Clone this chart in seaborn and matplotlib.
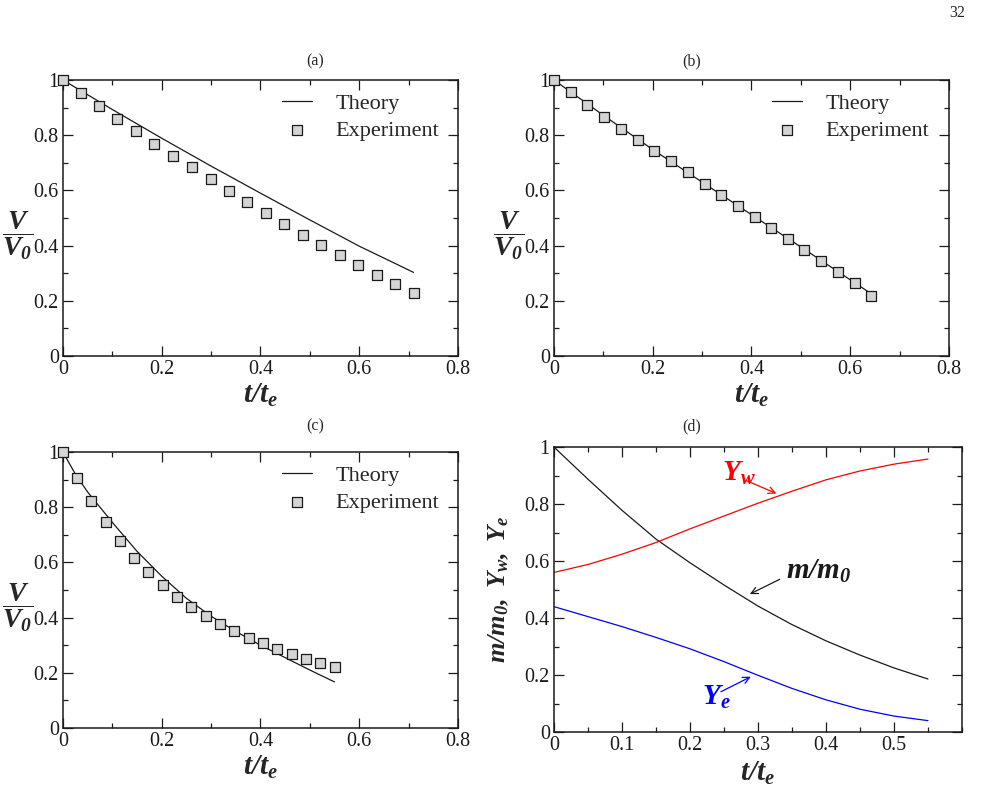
import matplotlib
matplotlib.use("Agg")
import matplotlib.pyplot as plt
import matplotlib.ticker as mtick
import pandas as pd
import seaborn as sns

# panel (a)
A_EXP_T = [0.0, 0.0358, 0.0730, 0.1102, 0.1481, 0.1853, 0.2232, 0.2611, 0.2989, 0.3361,
           0.3733, 0.4105, 0.4484, 0.4856, 0.5234, 0.5606, 0.5978, 0.6357, 0.6729, 0.7107]
A_EXP_V = [1.0, 0.954, 0.906, 0.860, 0.814, 0.769, 0.725, 0.683, 0.640, 0.598,
           0.557, 0.517, 0.478, 0.440, 0.402, 0.365, 0.329, 0.294, 0.260, 0.227]
A_TH_T = [0.0, 0.1, 0.2, 0.3, 0.4, 0.5, 0.6, 0.71]
A_TH_V = [1.0, 0.893, 0.789, 0.688, 0.590, 0.493, 0.398, 0.303]

# panel (b)
B_EXP_T = [0.0, 0.0337, 0.0675, 0.1012, 0.1356, 0.1693, 0.2030, 0.2368, 0.2705, 0.3049,
           0.3386, 0.3723, 0.4061, 0.4398, 0.4742, 0.5073, 0.5417, 0.5754, 0.6091, 0.6428]
B_EXP_V = [1.0, 0.955, 0.908, 0.867, 0.823, 0.783, 0.743, 0.705, 0.665, 0.625,
           0.584, 0.545, 0.505, 0.465, 0.425, 0.384, 0.343, 0.303, 0.263, 0.218]
B_TH_T = [0.0, 0.1, 0.2, 0.3, 0.4, 0.5, 0.643]
B_TH_V = [1.0, 0.872, 0.748, 0.630, 0.512, 0.395, 0.225]

# panel (c)
C_EXP_T = [0.0, 0.0284, 0.0575, 0.0866, 0.1156, 0.1440, 0.1731, 0.2021, 0.2312, 0.2603,
           0.2894, 0.3178, 0.3469, 0.3760, 0.4050, 0.4341, 0.4632, 0.4923, 0.5213, 0.5504]
C_EXP_V = [1.0, 0.905, 0.822, 0.745, 0.679, 0.617, 0.564, 0.517, 0.475, 0.438,
           0.407, 0.378, 0.351, 0.327, 0.307, 0.286, 0.268, 0.251, 0.236, 0.220]
C_TH_T = [0.0, 0.025, 0.05, 0.1, 0.15, 0.2, 0.25, 0.3, 0.35, 0.4, 0.45, 0.5, 0.55]
C_TH_V = [1.0, 0.92, 0.855, 0.745, 0.64, 0.55, 0.47, 0.405, 0.35, 0.30, 0.255, 0.21, 0.167]

# panel (d)
D_T = [0.0, 0.05, 0.1, 0.15, 0.2, 0.25, 0.3, 0.35, 0.4, 0.45, 0.5, 0.55]
D_M = [1.0, 0.887, 0.778, 0.677, 0.594, 0.516, 0.442, 0.377, 0.32, 0.27, 0.225, 0.186]
D_YW = [0.56, 0.588, 0.624, 0.665, 0.713, 0.758, 0.803, 0.845, 0.885, 0.916, 0.94, 0.958]
D_YE = [0.44, 0.405, 0.37, 0.332, 0.292, 0.247, 0.199, 0.153, 0.113, 0.08, 0.056, 0.04]

FRAC_LABEL = r"$\mathbfit{\dfrac{V}{V_0}}$"
T_LABEL = r"$\mathbfit{t/t_e}$"


def style_axis(ax, xmax, major, minor, xticks=None):
    ax.set_xlim(0, xmax)
    ax.set_ylim(0, 1)
    if xticks is None:
        ax.xaxis.set_major_locator(mtick.MultipleLocator(major))
    else:
        ax.xaxis.set_major_locator(mtick.FixedLocator(xticks))
    ax.xaxis.set_minor_locator(mtick.MultipleLocator(minor))
    ax.yaxis.set_major_locator(mtick.MultipleLocator(0.2))
    ax.yaxis.set_minor_locator(mtick.MultipleLocator(0.1))
    fmt = mtick.FuncFormatter(lambda v, p: "%g" % round(v, 3))
    ax.xaxis.set_major_formatter(fmt)
    ax.yaxis.set_major_formatter(fmt)
    ax.tick_params(which="both", direction="in", top=True, right=True,
                   color="k", labelcolor="k", width=0.9, labelsize=14.5)
    ax.tick_params(which="major", length=7, pad=3)
    ax.tick_params(which="minor", length=3.5)
    for s in ax.spines.values():
        s.set_linewidth(1.1)
        s.set_color("k")
    ax.set_xlabel(T_LABEL, fontsize=21, va="top")
    ax.set_ylabel("")


def comparison_panel(ax, th_t, th_v, ex_t, ex_v, leg_x):
    theory = pd.DataFrame({"t": th_t, "v": th_v})
    exper = pd.DataFrame({"t": ex_t, "v": ex_v})
    sns.lineplot(data=theory, x="t", y="v", ax=ax, color="k", lw=0.9,
                 estimator=None, sort=False, label="Theory")
    sns.scatterplot(data=exper, x="t", y="v", ax=ax, marker="s", s=42,
                    color="#d4d4d4", edgecolor="k", linewidth=0.9,
                    label="Experiment", zorder=3, clip_on=False)
    style_axis(ax, 0.8, 0.2, 0.1)
    ax.legend(loc="upper left", bbox_to_anchor=(leg_x, 0.985), frameon=False,
              fontsize=16, handlelength=1.35, handletextpad=1.05,
              labelspacing=0.3, borderaxespad=0)
    ax.xaxis.set_label_coords(0.5, -0.092)
    ax.set_ylabel(FRAC_LABEL, fontsize=20, rotation=0, ha="center", va="center")
    ax.yaxis.set_label_coords(-0.116, 0.435)


def main():
    sns.set_theme(style="ticks")
    plt.rcParams["font.family"] = ["Liberation Serif", "DejaVu Serif"]
    plt.rcParams["mathtext.fontset"] = "custom"
    plt.rcParams["mathtext.rm"] = "Liberation Serif"
    plt.rcParams["mathtext.it"] = "Liberation Serif:italic"
    plt.rcParams["mathtext.bf"] = "Liberation Serif:bold"
    plt.rcParams["mathtext.bfit"] = "Liberation Serif:italic:bold"

    fig = plt.figure(figsize=(9.98, 7.89), dpi=100)
    ax_a = fig.add_axes([0.0631, 0.5488, 0.3958, 0.3498])
    ax_b = fig.add_axes([0.5551, 0.5488, 0.3958, 0.3498])
    ax_c = fig.add_axes([0.0631, 0.0773, 0.3958, 0.3498])
    ax_d = fig.add_axes([0.5551, 0.0722, 0.4088, 0.3612])

    comparison_panel(ax_a, A_TH_T, A_TH_V, A_EXP_T, A_EXP_V, 0.533)
    comparison_panel(ax_b, B_TH_T, B_TH_V, B_EXP_T, B_EXP_V, 0.530)
    comparison_panel(ax_c, C_TH_T, C_TH_V, C_EXP_T, C_EXP_V, 0.533)

    # panel (d): mass fraction and species fractions
    d = pd.DataFrame({"t": D_T, "m": D_M, "yw": D_YW, "ye": D_YE})
    sns.lineplot(data=d, x="t", y="m", ax=ax_d, color="k", lw=0.9)
    sns.lineplot(data=d, x="t", y="yw", ax=ax_d, color="#ff0000", lw=0.9)
    sns.lineplot(data=d, x="t", y="ye", ax=ax_d, color="#0000ff", lw=0.9)
    style_axis(ax_d, 0.6, 0.1, 0.05, xticks=[0, 0.1, 0.2, 0.3, 0.4, 0.5])
    ax_d.xaxis.set_label_coords(0.5, -0.098)
    ax_d.set_ylabel(r"$\mathbfit{m/m_0,\ Y_w,\ Y_e}$", fontsize=19)
    ax_d.yaxis.set_label_coords(-0.105, 0.5)

    ax_d.text(0.247, 0.882, r"$\mathbfit{Y_w}$", color="#ff0000", fontsize=21,
              ha="left", va="baseline")
    ax_d.annotate("", xy=(0.327, 0.837), xytext=(0.283, 0.882),
                  arrowprops=dict(arrowstyle="->", color="#ff0000", lw=0.9,
                                  shrinkA=0, shrinkB=0))
    ax_d.text(0.3416, 0.539, r"$\mathbfit{m/m_0}$", color="k", fontsize=21,
              ha="left", va="baseline")
    ax_d.annotate("", xy=(0.288, 0.484), xytext=(0.332, 0.536),
                  arrowprops=dict(arrowstyle="->", color="k", lw=0.9,
                                  shrinkA=0, shrinkB=0))
    ax_d.text(0.217, 0.095, r"$\mathbfit{Y_e}$", color="#0000ff", fontsize=21,
              ha="left", va="baseline")
    ax_d.annotate("", xy=(0.2894, 0.194), xytext=(0.2455, 0.1414),
                  arrowprops=dict(arrowstyle="->", color="#0000ff", lw=0.9,
                                  shrinkA=0, shrinkB=0))

    # sub-figure tags and page number
    for x, y, tag in [(315, 61.7, "(a)"), (692, 61.7, "(b)"),
                      (315, 426.7, "(c)"), (692, 426.7, "(d)")]:
        fig.text(x / 998, 1 - y / 789, tag, ha="center", va="center", fontsize=11.5)
    fig.text(957 / 998, 1 - 13 / 789, "32", ha="center", va="center", fontsize=11.5)

    fig.savefig("out.png", dpi=100)


if __name__ == "__main__":
    main()
